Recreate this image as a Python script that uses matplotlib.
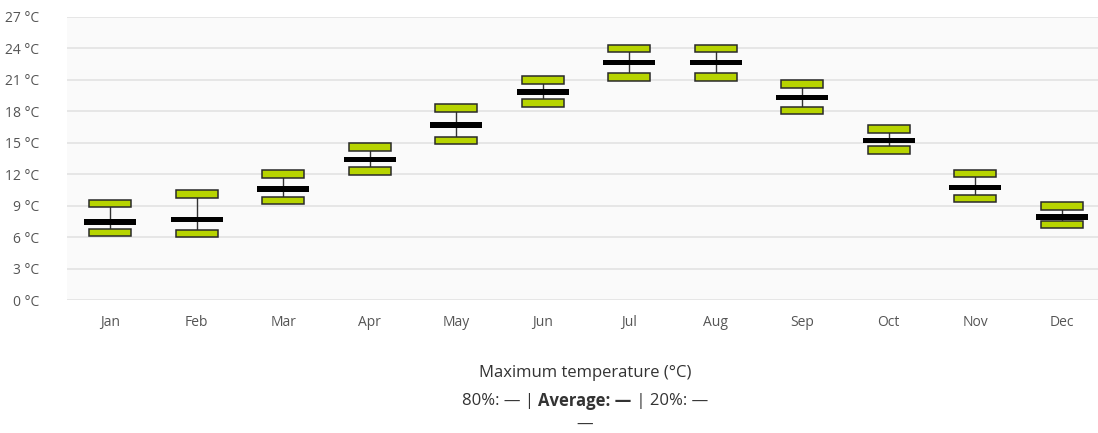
import matplotlib
matplotlib.use('Agg')
import matplotlib.pyplot as plt

plt.rcParams['font.family'] = ['Open Sans', 'DejaVu Sans']

# monthly maximum temperature (°C)
months = ['Jan', 'Feb', 'Mar', 'Apr', 'May', 'Jun', 'Jul', 'Aug', 'Sep', 'Oct', 'Nov', 'Dec']
p80 = [9.2, 10.1, 12.0, 14.6, 18.3, 21.0, 24.0, 24.0, 20.6, 16.3, 12.05, 8.95]
avg = [7.45, 7.7, 10.6, 13.4, 16.7, 19.85, 22.65, 22.65, 19.3, 15.2, 10.75, 7.9]
p20 = [6.45, 6.35, 9.5, 12.3, 15.2, 18.8, 21.3, 21.3, 18.1, 14.3, 9.7, 7.2]
yticks = [0, 3, 6, 9, 12, 15, 18, 21, 24, 27]

green = '#b7d400'
W, H = 1098, 433
fig = plt.figure(figsize=(W / 100, H / 100), dpi=100)
ax = fig.add_axes([67 / W, (H - 300) / H, 1038 / W, 283 / H])
ax.set_facecolor('#fafafa')

x = list(range(len(months)))
box_h = 0.72  # degrees, roughly 7-8 px tall
bar_h = 0.52

# whiskers between the percentile boxes
ax.vlines(x, p20, p80, color='#333333', lw=1, zorder=2)
# 80% and 20% boxes
ax.bar(x, [box_h] * 12, bottom=[v - box_h / 2 for v in p80], width=0.48,
       color=green, edgecolor='#2a2a2a', lw=1.1, zorder=3)
ax.bar(x, [box_h] * 12, bottom=[v - box_h / 2 for v in p20], width=0.48,
       color=green, edgecolor='#2a2a2a', lw=1.1, zorder=3)
# average bar
ax.bar(x, [bar_h] * 12, bottom=[v - bar_h / 2 for v in avg], width=0.6,
       color='black', lw=0, zorder=4)

ax.set_xlim(-0.5, 11.5)
ax.set_ylim(0, 27)
ax.set_yticks(yticks)
ax.set_yticklabels([f'{t} °C' for t in yticks])
ax.set_xticks(x)
ax.set_xticklabels(months)
ax.tick_params(axis='both', length=0, colors='#555555', labelsize=10)
ax.tick_params(axis='y', pad=20)
ax.tick_params(axis='x', pad=11)
ax.grid(axis='y', color='#e3e3e3', lw=1.2)
ax.set_axisbelow(True)
for s in ax.spines.values():
    s.set_visible(False)

# legend-style caption below the chart
fig.text(585 / W, 1 - 373 / H, 'Maximum temperature (°C)', ha='center', va='center',
         fontsize=12, color='#333333')
parts = [('80%: — | ', 'normal'), ('Average: —', 'bold'), (' | 20%: —', 'normal')]
renderer = fig.canvas.get_renderer()
widths = []
items = []
for s, w in parts:
    t = fig.text(0, 1 - 401 / H, s, fontsize=12, fontweight=w, color='#333333', va='center')
    widths.append(t.get_window_extent(renderer).width)
    items.append(t)
left = 585 - sum(widths) / 2
for t, wd in zip(items, widths):
    t.set_x(left / W)
    left += wd
fig.text(585 / W, 1 - 425 / H, '—', ha='center', va='center', fontsize=12, color='#333333')

fig.savefig('out.png', dpi=100)
